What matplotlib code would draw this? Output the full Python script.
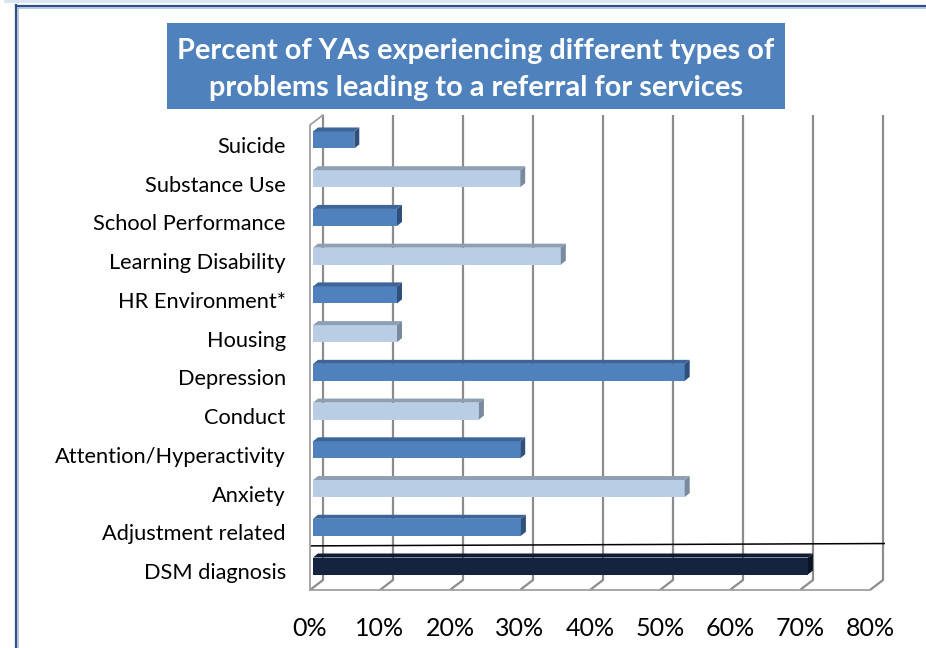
import matplotlib
matplotlib.use('Agg')
import matplotlib.pyplot as plt
import matplotlib.transforms as mtransforms
from matplotlib.patches import Polygon, Rectangle
from matplotlib.lines import Line2D

# datos (de abajo hacia arriba)
categorias = ['DSM diagnosis', 'Adjustment related', 'Anxiety',
              'Attention/Hyperactivity', 'Conduct', 'Depression', 'Housing',
              'HR Environment*', 'Learning Disability', 'School Performance',
              'Substance Use', 'Suicide']
porcentajes = [70.7, 29.7, 53.1, 29.6, 23.7, 53.1, 12.0, 12.0, 35.4, 12.0, 29.6, 5.9]
tonos = ['oscuro', 'medio', 'claro', 'medio', 'claro', 'medio', 'claro',
         'medio', 'claro', 'medio', 'claro', 'medio']
ticks_x = [0, 10, 20, 30, 40, 50, 60, 70, 80]
etiquetas_x = ['0%', '10%', '20%', '30%', '40%', '50%', '60%', '70%', '80%']
titulo = 'Percent of YAs experiencing different types of\nproblems leading to a referral for services'

colores = {
    'medio': ('#4F81BD', '#3E6598', '#2F4F7C'),
    'claro': ('#B9CDE5', '#8E9FB4', '#7A8A9E'),
    'oscuro': ('#14243F', '#0E1B31', '#0A1424'),
}

W, H = 926, 648
fig = plt.figure(figsize=(W / 100, H / 100), dpi=100)
plt.rcParams['font.family'] = ['Lato', 'DejaVu Sans']

# marco de la diapositiva
fig.add_artist(Rectangle((4 / W, 1 - 3 / H), 876 / W, 3 / H, color='#DCE6F1', lw=0))
fig.add_artist(Line2D([15.5 / W, 1], [1 - 6 / H, 1 - 6 / H], color='#2F5087', lw=1.6))
fig.add_artist(Line2D([17.5 / W, 1], [1 - 8.3 / H, 1 - 8.3 / H], color='#A9BEDB', lw=1.2))
fig.add_artist(Line2D([15.5 / W, 15.5 / W], [0, 1 - 5 / H], color='#2F5087', lw=1.6))
fig.add_artist(Line2D([17.8 / W, 17.8 / W], [0, 1 - 7.5 / H], color='#A9BEDB', lw=1.2))

# caja del titulo
fig.add_artist(Rectangle((167 / W, 1 - 109 / H), 618 / W, 86 / H, color='#4F81BD', lw=0))
fig.text(476 / W, 1 - 69.5 / H, titulo, ha='center', va='center', color='white',
         fontsize=20.8, fontweight='bold', linespacing=1.5)

# ejes: 7 px por punto porcentual, 38.73 px por categoria
PX, PY = 7.0, 38.73
ax = fig.add_axes([290 / W, 48 / H, 610 / W, 495 / H])
ax.set_xlim(-23 / PX, 587 / PX)
ax.set_ylim(-34 / PY, 461 / PY)
for s in ax.spines.values():
    s.set_visible(False)

# pared del fondo y piso (perspectiva oblicua)
atras, frente = 10 / PX, -3 / PX
y_arriba, y_fondo, y_frente = 451 / PY, -14 / PY, -24 / PY
gris = '#8C8C8C'
for v in ticks_x:
    ax.plot([v + atras, v + atras, v + frente], [y_arriba, y_fondo, y_frente],
            color=gris, lw=1.6, zorder=1, solid_capstyle='butt')
ax.plot([frente, frente, atras], [y_frente, y_arriba - 10 / PY, y_arriba],
        color='#A0A0A0', lw=1.3, zorder=1)
ax.plot([frente, ticks_x[-1] + frente], [y_frente, y_frente], color='#A0A0A0', lw=1.3, zorder=1)

# barras con cara superior y lateral
alto = 17 / PY
dx, dy = 5 / PX, 4 / PY
ys = list(range(len(categorias)))
frentes = [colores[t][0] for t in tonos]
ax.barh(ys, porcentajes, height=alto, color=frentes, zorder=3, lw=0)
for y, v, t in zip(ys, porcentajes, tonos):
    _, sup, lado = colores[t]
    a, b = y - alto / 2, y + alto / 2
    ax.add_patch(Polygon([(0, b), (v, b), (v + dx, b + dy), (dx, b + dy)],
                         closed=True, color=sup, lw=0, zorder=3))
    ax.add_patch(Polygon([(v, a), (v + dx, a + dy), (v + dx, b + dy), (v, b)],
                         closed=True, color=lado, lw=0, zorder=3))

# linea que separa DSM del resto
ax.plot([-0.2, ticks_x[-1] + 1.6], [0.52, 0.58], color='black', lw=1.1, zorder=4)

ax.set_yticks(ys, categorias, fontsize=15.7)
ax.set_xticks([v + frente for v in ticks_x], etiquetas_x, fontsize=18)
ax.tick_params(axis='y', length=0, pad=3)
ax.tick_params(axis='x', length=0, pad=12)

# etiquetas un poco mas abajo que el centro de la barra
bajar = mtransforms.ScaledTranslation(0, -5 / 100, fig.dpi_scale_trans)
for lbl in ax.get_yticklabels():
    lbl.set_transform(lbl.get_transform() + bajar)

fig.savefig('out.png', dpi=100)
